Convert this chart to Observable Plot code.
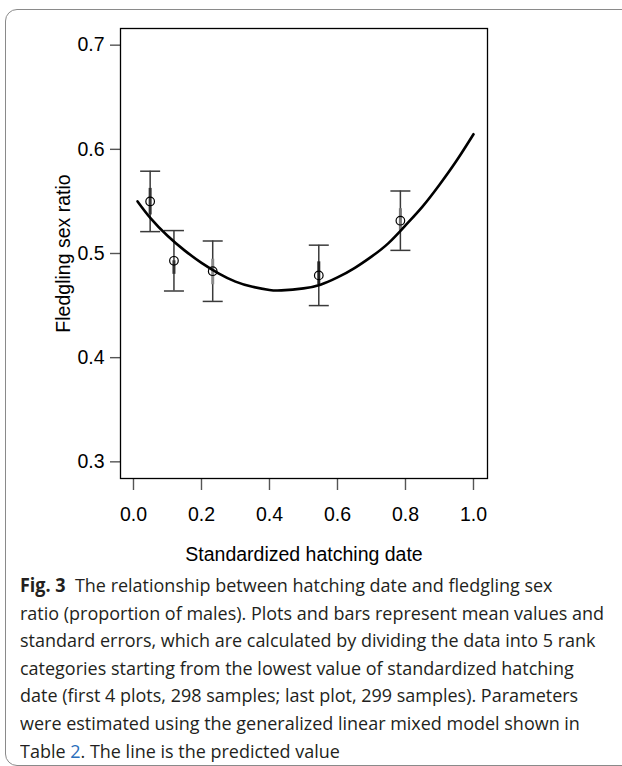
<!DOCTYPE html>
<html><head><meta charset="utf-8">
<script src="https://cdn.jsdelivr.net/npm/d3@7"></script>
<script src="https://cdn.jsdelivr.net/npm/@observablehq/plot@0.6"></script>
<style>
html,body{margin:0;padding:0;background:#fff;}
body{width:622px;height:766px;position:relative;overflow:hidden;}
#box{position:absolute;left:5px;top:9px;width:700px;height:757px;border:1.5px solid #8a8a8a;border-radius:12px;box-sizing:border-box;}
#chart{position:absolute;left:0;top:0;}
#caption{position:absolute;left:20px;top:572px;font-family:"Open Sans",sans-serif;font-size:19px;line-height:27.6px;color:#231f20;transform-origin:0 0;}
#caption div{white-space:nowrap;width:max-content;}
#caption b{font-weight:700;}
.lnk{color:#2a6ebb;}
</style></head><body>
<div id="box"></div>
<div id="chart"></div>
<div id="caption">
<div><b>Fig. 3</b>&nbsp; The relationship between hatching date and fledgling sex</div>
<div>ratio (proportion of males). Plots and bars represent mean values and</div>
<div>standard errors, which are calculated by dividing the data into 5 rank</div>
<div>categories starting from the lowest value of standardized hatching</div>
<div>date (first 4 plots, 298 samples; last plot, 299 samples). Parameters</div>
<div>were estimated using the generalized linear mixed model shown in</div>
<div>Table <span class="lnk">2</span>. The line is the predicted value</div>
</div>
<script>
// group means (5 rank categories) and standard errors
const groupX    = [0.049, 0.119, 0.233, 0.545, 0.785];
const groupMean = [0.550, 0.493, 0.483, 0.479, 0.5315];
const groupLo   = [0.521, 0.464, 0.454, 0.450, 0.503];
const groupHi   = [0.579, 0.522, 0.512, 0.508, 0.560];
// short thick inner segments drawn at each point
const innerLo   = [0.537, 0.480, 0.470, 0.470, 0.522];
const innerHi   = [0.5625, 0.493, 0.4945, 0.492, 0.543];
const innerTone = ["#333", "#333", "#8a8a8a", "#222", "#777"];
// predicted value line
const curveX = [0.012, 0.05, 0.1, 0.15, 0.2, 0.25, 0.3, 0.35, 0.4, 0.435, 0.5, 0.55, 0.6, 0.65, 0.7, 0.75, 0.8, 0.85, 0.9, 0.95, 1.0];
const curveY = [0.550, 0.534, 0.517, 0.503, 0.491, 0.481, 0.473, 0.468, 0.465, 0.4646, 0.4665, 0.470, 0.477, 0.486, 0.497, 0.510, 0.527, 0.545, 0.566, 0.589, 0.6145];
// axes
const xTicks = [0, 0.2, 0.4, 0.6, 0.8, 1.0];
const yTicks = [0.3, 0.4, 0.5, 0.6, 0.7];
const xTitle = "Standardized hatching date";
const yTitle = "Fledgling sex ratio";

const groups = groupX.map((x, i) => ({x, mean: groupMean[i], lo: groupLo[i], hi: groupHi[i], ilo: innerLo[i], ihi: innerHi[i], tone: innerTone[i]}));
const curve = curveX.map((x, i) => ({x, y: curveY[i]}));

const capSymbol = {
  draw(context, size) {
    const h = Math.sqrt(size / Math.PI);
    context.moveTo(-h, 0);
    context.lineTo(h, 0);
  }
};

const fmt = d3.format(".1f");
const FS = 19.5;
const chart = Plot.plot({
  width: 622,
  height: 570,
  marginLeft: 120,
  marginRight: 135,
  marginTop: 28,
  marginBottom: 92,
  x: {domain: [-0.0382, 1.0412]},
  y: {domain: [0.284, 0.716]},
  style: {fontFamily: "'Liberation Sans', Arial, sans-serif", fontSize: FS + "px", color: "#000", background: "transparent"},
  marks: [
    Plot.axisY({ticks: yTicks, tickSize: 10, tickPadding: 6, tickFormat: fmt, stroke: "#555", strokeWidth: 1.4, fontSize: FS, fill: "#000", label: null}),
    Plot.axisX({ticks: xTicks, tickSize: 12, tickPadding: 17, tickFormat: fmt, stroke: "#555", strokeWidth: 1.4, fontSize: FS, fill: "#000", label: null}),
    Plot.frame({stroke: "#000", strokeWidth: 1.3}),
    Plot.text([yTitle], {frameAnchor: "left", dx: -57, rotate: -90, textAnchor: "middle", lineAnchor: "middle", fontSize: FS, fill: "#000"}),
    Plot.text([xTitle], {frameAnchor: "bottom", dy: 76, textAnchor: "middle", lineAnchor: "middle", fontSize: FS, fill: "#000"}),
    Plot.ruleX(groups, {x: "x", y1: "lo", y2: "hi", stroke: "#3a3a3a", strokeWidth: 1.5}),
    Plot.dot(groups, {x: "x", y: "lo", symbol: capSymbol, r: 10, stroke: "#3a3a3a", strokeWidth: 1.5, fill: "none"}),
    Plot.dot(groups, {x: "x", y: "hi", symbol: capSymbol, r: 10, stroke: "#3a3a3a", strokeWidth: 1.5, fill: "none"}),
    Plot.ruleX(groups, {x: "x", y1: "ilo", y2: "ihi", stroke: "tone", strokeWidth: 3}),
    Plot.dot(groups, {x: "x", y: "mean", r: 4.3, stroke: "#000", strokeWidth: 1.2, fill: "none"}),
    Plot.line(curve, {x: "x", y: "y", curve: "natural", stroke: "#000", strokeWidth: 2.6})
  ]
});
document.getElementById("chart").appendChild(chart);

// fit caption width
const cap = document.getElementById("caption");
const lines = cap.querySelectorAll("div");
const w = lines[1].getBoundingClientRect().width;
cap.style.transform = `scaleX(${584 / w})`;
</script>
</body></html>
